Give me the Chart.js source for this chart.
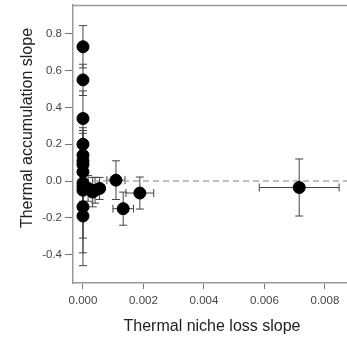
<!DOCTYPE html>
<html>
<head>
<meta charset="utf-8">
<script src="https://cdn.jsdelivr.net/npm/chart.js@4"></script>
<style>
  html, body { margin: 0; padding: 0; background: #fff; }
  #wrap { width: 347px; height: 347px; }
</style>
</head>
<body>
<div id="wrap"><canvas id="nicheChart" width="347" height="347"></canvas></div>
<script>
// slopes per species (x = thermal niche loss, y = thermal accumulation)
const nicheLoss = [0, 0, 0, 0, 0, 0, 0, 0, 0, 0, 0, 0, 0,
    0.00017, 0.00032, 0.0004, 0.00055, 0.00109, 0.00133, 0.00188, 0.00715];
const accumSlope = [0.73, 0.55, 0.34, 0.20, 0.14, 0.11, 0.09, 0.05, -0.01, -0.03, -0.05, -0.14, -0.19,
    -0.04, -0.06, -0.05, -0.04, 0.005, -0.15, -0.065, -0.035];
const accumErr = [0.115, 0.085, 0.15, 0.09, 0.135, 0.15, 0.12, 0.10, 0.10, 0.09, 0.26, 0.25, 0.27,
    0.07, 0.08, 0.07, 0.06, 0.105, 0.09, 0.087, 0.155];
const lossErr = [0, 0, 0, 0, 0, 0, 0, 0, 0, 0, 0, 0, 0,
    0.00012, 0.00015, 0.0001, 0.00015, 0.0003, 0.00034, 0.00046, 0.00132];

const xTicks = [0, 0.002, 0.004, 0.006, 0.008];
const yTicks = [-0.4, -0.2, 0.0, 0.2, 0.4, 0.6, 0.8];
const xRange = [-0.00033, 0.00873];
const yRange = [-0.554, 0.957];

const points = nicheLoss.map((x, i) => ({ x: x, y: accumSlope[i] }));

const fontFamily = '"Liberation Sans", Arial, Helvetica, sans-serif';

// error bars + box top + axis titles
const extras = {
    id: 'extras',
    beforeDatasetsDraw(chart) {
        const ctx = chart.ctx;
        const xs = chart.scales.x, ys = chart.scales.y;
        ctx.save();
        ctx.strokeStyle = '#444';
        ctx.lineWidth = 1;
        nicheLoss.forEach((x, i) => {
            const px = xs.getPixelForValue(x);
            const py = ys.getPixelForValue(accumSlope[i]);
            const top = ys.getPixelForValue(accumSlope[i] + accumErr[i]);
            const bot = ys.getPixelForValue(accumSlope[i] - accumErr[i]);
            ctx.beginPath();
            ctx.moveTo(px, top); ctx.lineTo(px, bot);
            ctx.moveTo(px - 4, top); ctx.lineTo(px + 4, top);
            ctx.moveTo(px - 4, bot); ctx.lineTo(px + 4, bot);
            if (lossErr[i] > 0) {
                const l = xs.getPixelForValue(x - lossErr[i]);
                const r = xs.getPixelForValue(x + lossErr[i]);
                ctx.moveTo(l, py); ctx.lineTo(r, py);
                ctx.moveTo(l, py - 4); ctx.lineTo(l, py + 4);
                ctx.moveTo(r, py - 4); ctx.lineTo(r, py + 4);
            }
            ctx.stroke();
        });
        ctx.restore();
    },
    afterDraw(chart) {
        const ctx = chart.ctx;
        const a = chart.chartArea;
        ctx.save();
        ctx.strokeStyle = '#999';
        ctx.lineWidth = 1.5;
        ctx.beginPath();
        ctx.moveTo(a.left, a.top + 0.5);
        ctx.lineTo(a.right, a.top + 0.5);
        ctx.stroke();

        ctx.fillStyle = '#222';
        ctx.font = '16px ' + fontFamily;
        ctx.textAlign = 'center';
        ctx.textBaseline = 'middle';
        ctx.fillText('Thermal niche loss slope', 212, 327);
        ctx.translate(28, 128);
        ctx.rotate(-Math.PI / 2);
        ctx.fillText('Thermal accumulation slope', 0, 0);
        ctx.restore();
    }
};

new Chart(document.getElementById('nicheChart'), {
    type: 'scatter',
    data: {
        datasets: [{
            label: 'species',
            data: points,
            backgroundColor: '#000',
            borderColor: '#000',
            pointRadius: 6,
            pointHoverRadius: 6,
            order: 1
        }, {
            type: 'line',
            label: 'zero',
            data: [{ x: 0, y: 0 }, { x: xRange[1], y: 0 }],
            borderColor: '#aaa',
            borderWidth: 1.5,
            borderDash: [6, 4],
            pointRadius: 0,
            order: 2
        }]
    },
    options: {
        responsive: false,
        animation: false,
        layout: { autoPadding: false, padding: { top: 5, left: 0, right: 0, bottom: 0 } },
        plugins: {
            legend: { display: false },
            tooltip: { enabled: false }
        },
        scales: {
            x: {
                type: 'linear',
                min: xRange[0],
                max: xRange[1],
                afterBuildTicks: s => { s.ticks = xTicks.map(v => ({ value: v })); },
                afterFit: s => { s.height = 64; s.paddingLeft = 0; s.paddingRight = 0; },
                border: { display: true, color: '#999', width: 1.5 },
                grid: { drawOnChartArea: false, drawTicks: true, tickLength: 6, color: '#777' },
                ticks: {
                    padding: 5,
                    color: '#444',
                    font: { family: fontFamily, size: 11.5 },
                    maxRotation: 0,
                    callback: v => v.toFixed(3)
                }
            },
            y: {
                type: 'linear',
                min: yRange[0],
                max: yRange[1],
                afterBuildTicks: s => { s.ticks = yTicks.map(v => ({ value: v })); },
                afterFit: s => { s.width = 73; s.paddingTop = 0; s.paddingBottom = 0; },
                border: { display: true, color: '#999', width: 1.5 },
                grid: { drawOnChartArea: false, drawTicks: true, tickLength: 8, color: '#777' },
                ticks: {
                    padding: 3,
                    color: '#444',
                    font: { family: fontFamily, size: 11.5 },
                    callback: v => v.toFixed(1)
                }
            }
        }
    },
    plugins: [extras]
});
</script>
</body>
</html>
